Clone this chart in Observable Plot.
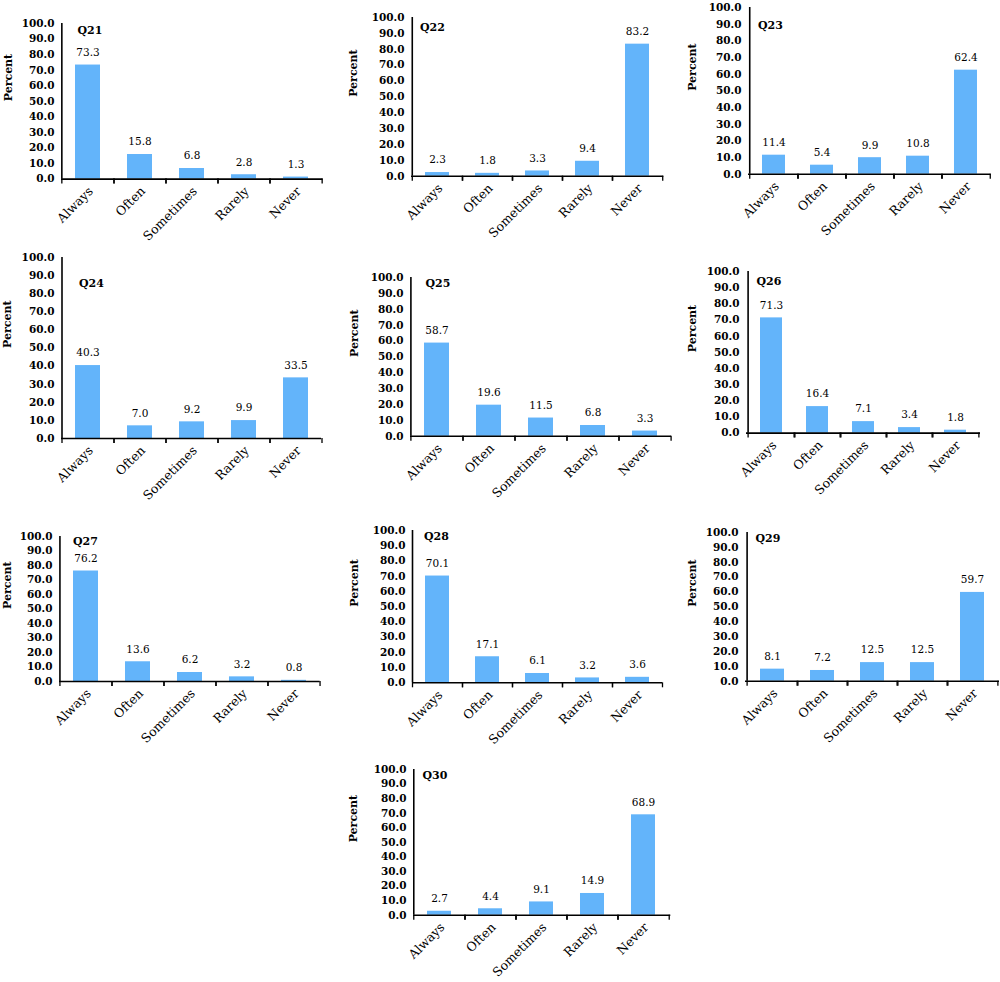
<!DOCTYPE html>
<html>
<head>
<meta charset="utf-8">
<script src="https://cdn.jsdelivr.net/npm/d3@7"></script>
<script src="https://cdn.jsdelivr.net/npm/@observablehq/plot@0.6"></script>
<style>
html, body { margin: 0; padding: 0; background: #fff; }
#chart { position: relative; width: 1000px; height: 982px; overflow: hidden; background: #fff; }
#chart svg { position: absolute; }
</style>
</head>
<body>
<div id="chart"></div>
<script>
// ---- Data ----
const categories = ["Always", "Often", "Sometimes", "Rarely", "Never"];
const questions = ["Q21", "Q22", "Q23", "Q24", "Q25", "Q26", "Q27", "Q28", "Q29", "Q30"];
const q21 = [73.3, 15.8, 6.8, 2.8, 1.3];
const q22 = [2.3, 1.8, 3.3, 9.4, 83.2];
const q23 = [11.4, 5.4, 9.9, 10.8, 62.4];
const q24 = [40.3, 7.0, 9.2, 9.9, 33.5];
const q25 = [58.7, 19.6, 11.5, 6.8, 3.3];
const q26 = [71.3, 16.4, 7.1, 3.4, 1.8];
const q27 = [76.2, 13.6, 6.2, 3.2, 0.8];
const q28 = [70.1, 17.1, 6.1, 3.2, 3.6];
const q29 = [8.1, 7.2, 12.5, 12.5, 59.7];
const q30 = [2.7, 4.4, 9.1, 14.9, 68.9];
const seriesValues = [q21, q22, q23, q24, q25, q26, q27, q28, q29, q30];
const yTicks = [0, 10, 20, 30, 40, 50, 60, 70, 80, 90, 100];
const yLabel = "Percent";

// ---- Layout (page pixels): plot-area left, top, bottom, right; title offsets; y-label offset ----
const layout = [
  {left: 60.7, top: 22.7, bottom: 178.3, right: 322.3, tdx: 16, tdy: 2.5, ldx: -53},
  {left: 411, top: 17.3, bottom: 176, right: 663.3, tdx: 8.5, tdy: 5.5, ldx: -58},
  {left: 748.3, top: 7.3, bottom: 174, right: 991, tdx: 9.5, tdy: 13.5, ldx: -56.5},
  {left: 60.7, top: 256.7, bottom: 437.7, right: 320.7, tdx: 17.5, tdy: 21.5, ldx: -54},
  {left: 410, top: 276.7, bottom: 435.5, right: 671, tdx: 15, tdy: 1.5, ldx: -56.5},
  {left: 746, top: 270.7, bottom: 432.3, right: 980, tdx: 10, tdy: 6, ldx: -54.5},
  {left: 59.3, top: 536, bottom: 681, right: 320, tdx: 13.5, tdy: 1, ldx: -52.5},
  {left: 411.7, top: 530, bottom: 682.3, right: 661.7, tdx: 11.5, tdy: 1.5, ldx: -58.5},
  {left: 745, top: 532.3, bottom: 681, right: 999, tdx: 10, tdy: 2, ldx: -53.5},
  {left: 412.7, top: 769.3, bottom: 915, right: 670, tdx: 9, tdy: 1.5, ldx: -60}
];

const barColor = "#63b4fa";
const ML = 72, MR = 6, MT = 12, MB = 72;
const container = document.getElementById("chart");

questions.forEach((q, i) => {
  const L = layout[i];
  const data = categories.map((c, j) => ({cat: c, value: seriesValues[i][j]}));
  const step = (L.right - L.left) / categories.length;
  const chart = Plot.plot({
    width: L.right - L.left + ML + MR,
    height: L.bottom - L.top + MT + MB,
    marginLeft: ML, marginRight: MR, marginTop: MT, marginBottom: MB,
    style: {background: "none", fontFamily: "'DejaVu Serif', serif", color: "#000", overflow: "visible"},
    x: {domain: categories, paddingInner: 0.52, paddingOuter: 0.26, label: null},
    y: {domain: [yTicks[0], yTicks[yTicks.length - 1]], label: null},
    marks: [
      Plot.barY(data, {x: "cat", y: "value", fill: barColor}),
      Plot.ruleY([yTicks[0]], {stroke: "#000", strokeWidth: 1.6}),
      Plot.ruleX([categories[0]], {x: d => d, dx: -step / 2, y1: yTicks[0], y2: yTicks[yTicks.length - 1], stroke: "#000", strokeWidth: 1.6}),
      Plot.axisX({tickSize: 5, tickFormat: () => "", dx: -step / 2, strokeWidth: 1.3, label: null}),
      Plot.axisX({tickSize: 5, tickFormat: () => "", dx: step / 2, strokeWidth: 1.3, label: null}),
      Plot.axisX({tickSize: 0, tickPadding: 10, tickRotate: -45, fontSize: 12.5, dx: 3, label: null}),
      Plot.axisY({ticks: yTicks, tickSize: 0, tickPadding: 7, tickFormat: d => d.toFixed(1), fontSize: 10.5, fontWeight: "bold", label: null}),
      Plot.text(data, {x: "cat", y: "value", text: d => d.value.toFixed(1), dy: -12.5, fontSize: 10.5}),
      Plot.text([q], {frameAnchor: "top-left", textAnchor: "start", dx: L.tdx, dy: L.tdy, fontWeight: "bold", fontSize: 11}),
      Plot.text([yLabel], {frameAnchor: "left", rotate: -90, dx: L.ldx, fontWeight: "bold", fontSize: 11})
    ]
  });
  chart.style.left = (L.left - ML) + "px";
  chart.style.top = (L.top - MT) + "px";
  container.appendChild(chart);
});
</script>
</body>
</html>
